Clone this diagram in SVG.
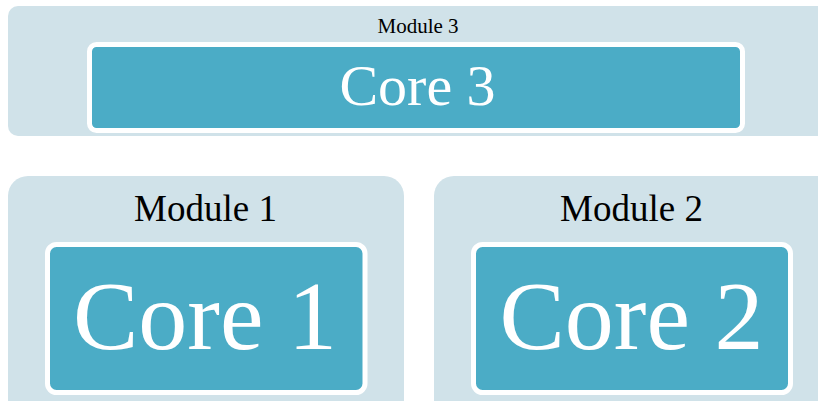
<svg xmlns="http://www.w3.org/2000/svg" width="818" height="401" viewBox="0 0 818 401">
  <style>
    .module { fill: #D0E2E9; }
    .core { fill: #4BACC6; stroke: #FFFFFF; stroke-width: 5; }
    .mlabel { font-family: "Liberation Serif", "DejaVu Serif", serif; fill: #000000; text-anchor: middle; }
    .clabel { font-family: "Liberation Serif", "DejaVu Serif", serif; fill: #FFFFFF; text-anchor: middle; }
  </style>
  <rect width="818" height="401" fill="#FFFFFF"/>
  <g id="module3">
    <rect class="module" x="8" y="6" width="820" height="130" rx="10" ry="10"/>
    <text class="mlabel" x="418" y="33" font-size="21">Module 3</text>
  </g>
  <g id="core3">
    <rect class="core" x="89.5" y="44.5" width="653" height="86" rx="7" ry="7"/>
    <text class="clabel" x="417.5" y="105" font-size="58">Core 3</text>
  </g>
  <g id="module1">
    <rect class="module" x="8" y="176" width="396" height="250" rx="20" ry="20"/>
    <text class="mlabel" x="205.5" y="221" font-size="37">Module 1</text>
  </g>
  <g id="core1">
    <rect class="core" x="47.5" y="244.5" width="317.5" height="148" rx="9" ry="9"/>
    <text class="clabel" x="205" y="349" font-size="98">Core 1</text>
  </g>
  <g id="module2">
    <rect class="module" x="434" y="176" width="420" height="250" rx="20" ry="20"/>
    <text class="mlabel" x="631.5" y="221" font-size="37">Module 2</text>
  </g>
  <g id="core2">
    <rect class="core" x="473.5" y="244.5" width="317" height="148" rx="9" ry="9"/>
    <text class="clabel" x="631.5" y="349" font-size="98">Core 2</text>
  </g>
  <g id="connectors"></g>
</svg>
